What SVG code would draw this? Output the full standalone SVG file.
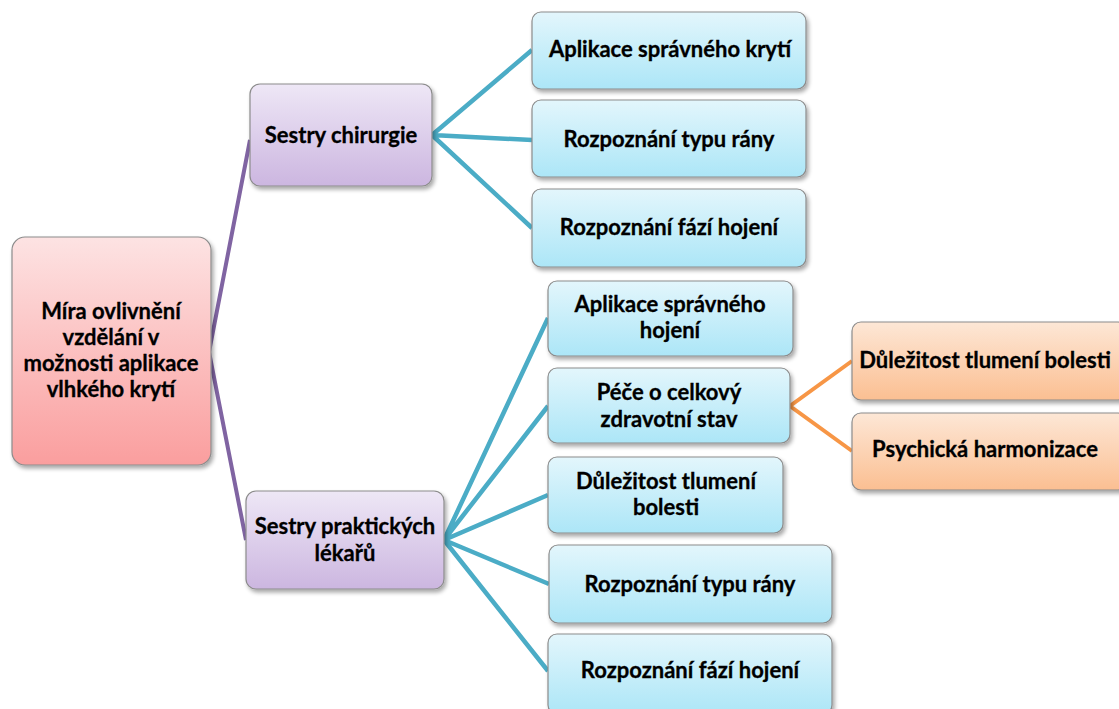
<svg xmlns="http://www.w3.org/2000/svg" width="1119" height="709" viewBox="0 0 1119 709">
  <defs>
    <linearGradient id="gPink" x1="0" y1="0" x2="0" y2="1">
      <stop offset="0" stop-color="#fde3e3"/>
      <stop offset="1" stop-color="#fa9e9e"/>
    </linearGradient>
    <linearGradient id="gPurple" x1="0" y1="0" x2="0" y2="1">
      <stop offset="0" stop-color="#eee7f6"/>
      <stop offset="1" stop-color="#ccb6e0"/>
    </linearGradient>
    <linearGradient id="gBlue" x1="0" y1="0" x2="0" y2="1">
      <stop offset="0" stop-color="#e3f6fc"/>
      <stop offset="1" stop-color="#ace6f7"/>
    </linearGradient>
    <linearGradient id="gOrange" x1="0" y1="0" x2="0" y2="1">
      <stop offset="0" stop-color="#fde7d6"/>
      <stop offset="1" stop-color="#fbbf92"/>
    </linearGradient>
    <filter id="shadow" x="-10%" y="-10%" width="125%" height="130%">
      <feGaussianBlur in="SourceAlpha" stdDeviation="2"/>
      <feOffset dx="2" dy="3" result="b"/>
      <feComponentTransfer><feFuncA type="linear" slope="0.35"/></feComponentTransfer>
      <feMerge><feMergeNode/><feMergeNode in="SourceGraphic"/></feMerge>
    </filter>
  </defs>
  <style>
    .box { stroke: #8c8c8c; stroke-width: 1.2; filter: url(#shadow); }
    .pink { fill: url(#gPink); }
    .purple { fill: url(#gPurple); }
    .blue { fill: url(#gBlue); }
    .orange { fill: url(#gOrange); }
    text { font-family: Lato, "Liberation Sans", sans-serif; font-weight: bold; font-size: 22px; fill: #000; text-anchor: middle; stroke: #000; stroke-width: 0.3; }
    .c-purple { stroke: #8064a2; stroke-width: 4; fill: none; }
    .c-teal { stroke: #4bacc6; stroke-width: 4.5; fill: none; }
    .c-orange { stroke: #f79646; stroke-width: 4; fill: none; }
  </style>

  <!-- connectors -->
  <g id="connectors">
    <path class="c-purple" d="M250,140 L209,352 L246,540"/>
    <path class="c-teal" d="M532,50 L432,135 L532,140 M432,135 L532,228"/>
    <path class="c-teal" d="M548,318 L444,540 L548,406 M444,540 L548,495 M444,540 L549,584 M444,540 L548,671"/>
    <path class="c-orange" d="M852,361 L790,406 L852,451"/>
  </g>

  <!-- root -->
  <g id="root">
    <rect class="box pink" x="12" y="237" width="199" height="228" rx="13"/>
    <text x="111" y="319">Míra ovlivnění</text>
    <text x="111" y="345">vzdělání v</text>
    <text x="111" y="371">možnosti aplikace</text>
    <text x="111" y="397">vlhkého krytí</text>
  </g>

  <!-- level 1 -->
  <g id="surgery">
    <rect class="box purple" x="250" y="84" width="182" height="102" rx="10"/>
    <text x="341" y="143">Sestry chirurgie</text>
  </g>
  <g id="practitioners">
    <rect class="box purple" x="246" y="491" width="198" height="98" rx="10"/>
    <text x="345" y="534">Sestry praktických</text>
    <text x="345" y="561">lékařů</text>
  </g>

  <!-- surgery branch -->
  <g id="s-dressing">
    <rect class="box blue" x="532" y="12" width="274" height="77" rx="9"/>
    <text x="670" y="57">Aplikace správného krytí</text>
  </g>
  <g id="s-wound-type">
    <rect class="box blue" x="532" y="100" width="274" height="77" rx="9"/>
    <text x="669" y="147">Rozpoznání typu rány</text>
  </g>
  <g id="s-healing-phases">
    <rect class="box blue" x="532" y="189" width="274" height="78" rx="9"/>
    <text x="669" y="235">Rozpoznání fází hojení</text>
  </g>

  <!-- practitioners branch -->
  <g id="p-healing">
    <rect class="box blue" x="548" y="281" width="245" height="75" rx="9"/>
    <text x="670" y="312">Aplikace správného</text>
    <text x="670" y="338">hojení</text>
  </g>
  <g id="p-health">
    <rect class="box blue" x="548" y="368" width="242" height="75" rx="9"/>
    <text x="669" y="400">Péče o celkový</text>
    <text x="669" y="427">zdravotní stav</text>
  </g>
  <g id="p-pain">
    <rect class="box blue" x="548" y="457" width="235" height="76" rx="9"/>
    <text x="666" y="489">Důležitost tlumení</text>
    <text x="666" y="515">bolesti</text>
  </g>
  <g id="p-wound-type">
    <rect class="box blue" x="549" y="545" width="283" height="78" rx="9"/>
    <text x="690" y="592">Rozpoznání typu rány</text>
  </g>
  <g id="p-healing-phases">
    <rect class="box blue" x="548" y="634" width="284" height="80" rx="9"/>
    <text x="690" y="678">Rozpoznání fází hojení</text>
  </g>

  <!-- overall health branch -->
  <g id="h-pain">
    <rect class="box orange" x="852" y="322" width="275" height="78" rx="9"/>
    <text x="985" y="368">Důležitost tlumení bolesti</text>
  </g>
  <g id="h-psyche">
    <rect class="box orange" x="852" y="413" width="275" height="77" rx="9"/>
    <text x="985" y="457">Psychická harmonizace</text>
  </g>
</svg>
